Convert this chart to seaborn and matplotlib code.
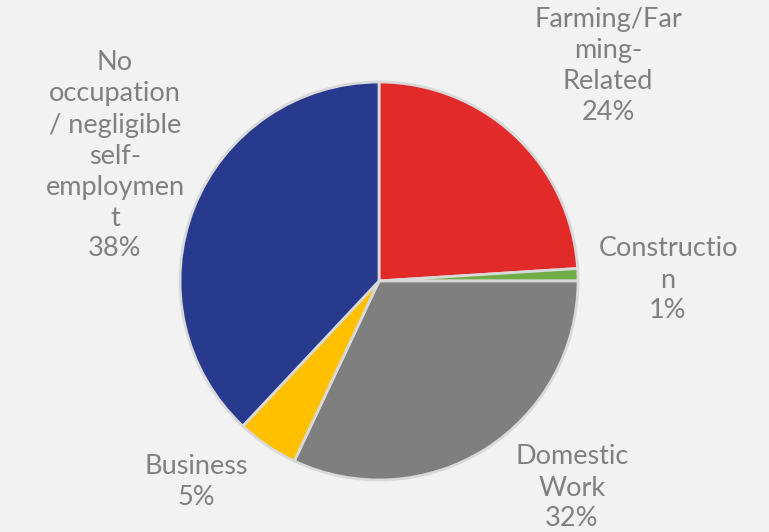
import matplotlib
matplotlib.use("Agg")
import matplotlib.pyplot as plt
import seaborn as sns

categories = ["Farming/Far\nming-\nRelated", "Constructio\nn", "Domestic\nWork",
              "Business", "No\noccupation\n/ negligible\nself-\nemploymen\nt"]
shares = [24, 1, 32, 5, 38]
colors = ["#E22A2A", "#70AD47", "#7F7F7F", "#FFC000", "#273A8E"]
# label anchor points in pixel coordinates (centre of each text block)
label_px = [(608, 66), (668, 280), (572, 488), (196, 482), (115, 156)]

sns.set_theme(style="white")
plt.rcParams["font.family"] = ["Lato", "DejaVu Sans"]

W, H, DPI = 769, 532, 100
CX, CY, R = 379, 281, 199

fig = plt.figure(figsize=(W / DPI, H / DPI), dpi=DPI, facecolor="#F2F2F2")
ax = fig.add_axes([0, 0, 1, 1])
ax.set_facecolor("#F2F2F2")

ax.pie(shares, colors=colors, startangle=90, counterclock=False, radius=1,
       wedgeprops=dict(edgecolor="#D9D9D9", linewidth=2))

ax.set_xlim(-CX / R, (W - CX) / R)
ax.set_ylim(-(H - CY) / R, CY / R)
ax.set_aspect("auto")
ax.axis("off")

for cat, val, (px, py) in zip(categories, shares, label_px):
    ax.text((px - CX) / R, (CY - py) / R, f"{cat}\n{val}%", ha="center", va="center",
            fontsize=19.5, color="#808080", linespacing=1.3)

fig.savefig("out.png", dpi=DPI, facecolor=fig.get_facecolor())
